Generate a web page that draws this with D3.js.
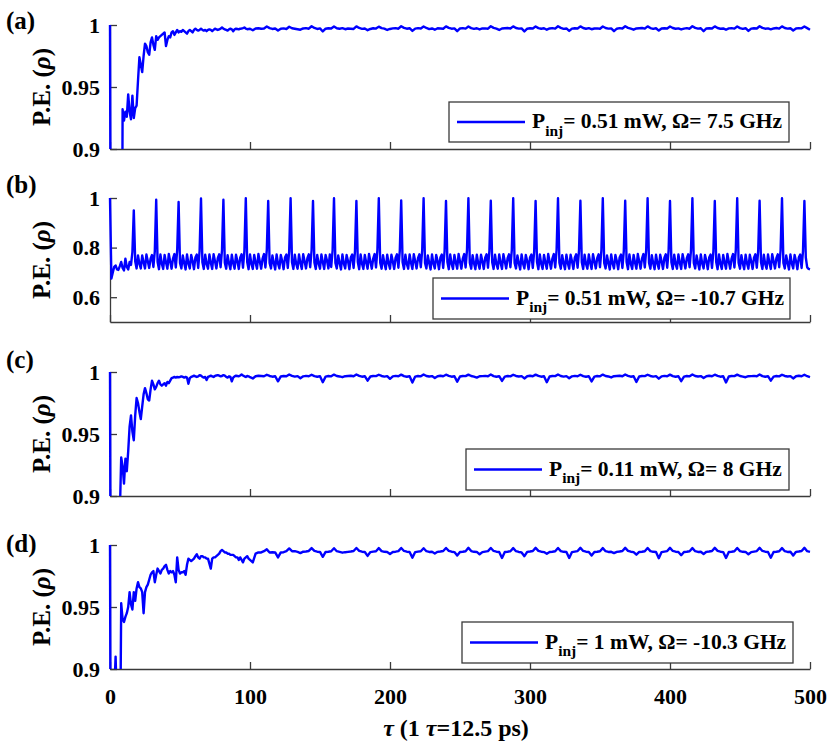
<!DOCTYPE html>
<html>
<head>
<meta charset="utf-8">
<script src="https://cdn.jsdelivr.net/npm/d3@7"></script>
<style>
  body { margin: 0; background: #fff; }
  svg { display: block; }
  text { font-family: "Liberation Serif", "Times New Roman", serif; font-weight: bold; fill: #000; }
</style>
</head>
<body>
<script>
// time grids (tau): panels a, c, d sampled every 1 tau up to 99, then every 2 tau
var tauFine = d3.range(0, 100, 1);
var tauCoarse = d3.range(100, 501, 2);
var tauACD = tauFine.concat(tauCoarse);
var tauB = d3.range(0, 501, 1);

var xTicks = [0, 100, 200, 300, 400, 500];
var legendPower = ["0.51", "0.51", "0.11", "1"];
var legendOmega = ["7.5", "-10.7", "8", "-10.3"];
var panelLetters = ["(a)", "(b)", "(c)", "(d)"];

// (a) P_inj = 0.51 mW, Omega = 7.5 GHz
var peA = [
  1.000, 0.600, 0.600, 0.600, 0.600, 0.600, 0.600, 0.600, 0.600, 0.932,
  0.923, 0.930, 0.926, 0.944, 0.930, 0.924, 0.943, 0.925, 0.933, 0.935,
  0.955, 0.974, 0.968, 0.962, 0.975, 0.985, 0.983, 0.978, 0.976, 0.986,
  0.990, 0.984, 0.980, 0.991, 0.988, 0.990, 0.991, 0.992, 0.993, 0.994,
  0.983, 0.988, 0.991, 0.990, 0.994, 0.995, 0.992, 0.994, 0.996, 0.994,
  0.995, 0.9945, 0.996, 0.995, 0.994, 0.993, 0.995, 0.996, 0.995, 0.994,
  0.996, 0.997, 0.996, 0.9955, 0.996, 0.997, 0.996, 0.9955, 0.996, 0.995,
  0.996, 0.9965, 0.996, 0.995, 0.996, 0.997, 0.9965, 0.996, 0.9965, 0.997,
  0.998, 0.997, 0.9965, 0.996, 0.9955, 0.9965, 0.997, 0.9965, 0.995, 0.9965,
  0.997, 0.9968, 0.9965, 0.997, 0.9972, 0.9975, 0.998, 0.997, 0.9966, 0.9968,
  0.9970, 0.9958, 0.9972, 0.9974, 0.9970, 0.9972,
  0.9988, 0.9975, 0.9968, 0.9972, 0.9955, 0.9970, 0.9973, 0.9968,
  0.9986, 0.9974, 0.9970, 0.9966, 0.9962, 0.9972, 0.9975, 0.9970,
  0.9990, 0.9976, 0.9968, 0.9973, 0.9948, 0.9970, 0.9974, 0.9972,
  0.9988, 0.9974, 0.9970, 0.9975, 0.9966, 0.9972, 0.9970, 0.9968,
  0.9989, 0.9976, 0.9969, 0.9972, 0.9958, 0.9968, 0.9974, 0.9971,
  0.9987, 0.9975, 0.9971, 0.9960, 0.9968, 0.9973, 0.9975, 0.9970,
  0.9990, 0.9977, 0.9970, 0.9974, 0.9952, 0.9971, 0.9975, 0.9972,
  0.9988, 0.9976, 0.9967, 0.9972, 0.9962, 0.9974, 0.9972, 0.9970,
  0.9989, 0.9977, 0.9970, 0.9973, 0.9950, 0.9972, 0.9975, 0.9971,
  0.9988, 0.9975, 0.9969, 0.9974, 0.9964, 0.9972, 0.9973, 0.9970,
  0.9990, 0.9977, 0.9970, 0.9960, 0.9972, 0.9974, 0.9976, 0.9972,
  0.9989, 0.9976, 0.9971, 0.9973, 0.9948, 0.9970, 0.9974, 0.9972,
  0.9988, 0.9975, 0.9970, 0.9974, 0.9962, 0.9972, 0.9975, 0.9971,
  0.9990, 0.9977, 0.9969, 0.9972, 0.9952, 0.9971, 0.9974, 0.9972,
  0.9989, 0.9976, 0.9970, 0.9975, 0.9966, 0.9972, 0.9973, 0.9970,
  0.9988, 0.9976, 0.9971, 0.9973, 0.9950, 0.9970, 0.9975, 0.9972,
  0.9990, 0.9977, 0.9970, 0.9962, 0.9972, 0.9974, 0.9976, 0.9971,
  0.9989, 0.9975, 0.9969, 0.9974, 0.9955, 0.9972, 0.9974, 0.9972,
  0.9988, 0.9976, 0.9970, 0.9973, 0.9964, 0.9971, 0.9975, 0.9970,
  0.9990, 0.9977, 0.9971, 0.9974, 0.9950, 0.9972, 0.9974, 0.9972,
  0.9989, 0.9976, 0.9970, 0.9972, 0.9962, 0.9973, 0.9975, 0.9971,
  0.9988, 0.9975, 0.9969, 0.9974, 0.9952, 0.9971, 0.9974, 0.9972,
  0.9990, 0.9977, 0.9970, 0.9973, 0.9965, 0.9972, 0.9976, 0.9971,
  0.9989, 0.9976, 0.9971, 0.9974, 0.9956, 0.9972, 0.9975, 0.9973,
  0.9988, 0.9975, 0.9962
];

// (b) P_inj = 0.51 mW, Omega = -10.7 GHz
var peB = [
  1.000, 0.675, 0.700, 0.722, 0.728, 0.712, 0.710, 0.725, 0.742, 0.718, 0.708, 0.755, 0.722, 0.712, 0.742, 0.730, 0.782,
  0.950, 0.745, 0.716, 0.768, 0.735, 0.716, 0.768, 0.740, 0.716, 0.772, 0.745, 0.718, 0.755, 0.770, 0.722, 0.785,
  0.993, 0.742, 0.713, 0.772, 0.735, 0.714, 0.770, 0.740, 0.715, 0.774, 0.744, 0.715, 0.756, 0.774, 0.720, 0.790,
  0.984, 0.738, 0.716, 0.768, 0.738, 0.712, 0.772, 0.736, 0.716, 0.770, 0.746, 0.713, 0.760, 0.772, 0.718, 0.786,
  0.998, 0.741, 0.714, 0.771, 0.734, 0.715, 0.772, 0.739, 0.714, 0.773, 0.745, 0.716, 0.757, 0.773, 0.721, 0.789,
  0.993, 0.739, 0.715, 0.769, 0.737, 0.713, 0.771, 0.737, 0.715, 0.771, 0.745, 0.714, 0.759, 0.773, 0.719, 0.787,
  0.999, 0.742, 0.713, 0.772, 0.735, 0.714, 0.770, 0.740, 0.715, 0.774, 0.744, 0.715, 0.756, 0.774, 0.720, 0.790,
  0.988, 0.738, 0.716, 0.768, 0.738, 0.712, 0.772, 0.736, 0.716, 0.770, 0.746, 0.713, 0.760, 0.772, 0.718, 0.786,
  0.999, 0.741, 0.714, 0.771, 0.734, 0.715, 0.772, 0.739, 0.714, 0.773, 0.745, 0.716, 0.757, 0.773, 0.721, 0.789,
  0.988, 0.740, 0.714, 0.770, 0.736, 0.715, 0.772, 0.742, 0.714, 0.770, 0.748, 0.716, 0.772, 0.722, 0.788,
  0.999, 0.738, 0.716, 0.768, 0.738, 0.712, 0.772, 0.736, 0.716, 0.770, 0.746, 0.713, 0.760, 0.772, 0.718, 0.786,
  0.988, 0.742, 0.713, 0.772, 0.735, 0.714, 0.770, 0.740, 0.715, 0.774, 0.744, 0.715, 0.756, 0.774, 0.720, 0.790,
  0.999, 0.739, 0.715, 0.769, 0.737, 0.713, 0.771, 0.737, 0.715, 0.771, 0.745, 0.714, 0.759, 0.773, 0.719, 0.787,
  0.990, 0.741, 0.714, 0.771, 0.734, 0.715, 0.772, 0.739, 0.714, 0.773, 0.745, 0.716, 0.757, 0.773, 0.721, 0.789,
  0.999, 0.738, 0.716, 0.768, 0.738, 0.712, 0.772, 0.736, 0.716, 0.770, 0.746, 0.713, 0.760, 0.772, 0.718, 0.786,
  0.988, 0.742, 0.713, 0.772, 0.735, 0.714, 0.770, 0.740, 0.715, 0.774, 0.744, 0.715, 0.756, 0.774, 0.720, 0.790,
  0.999, 0.739, 0.715, 0.769, 0.737, 0.713, 0.771, 0.737, 0.715, 0.771, 0.745, 0.714, 0.759, 0.773, 0.719, 0.787,
  0.989, 0.741, 0.714, 0.771, 0.734, 0.715, 0.772, 0.739, 0.714, 0.773, 0.745, 0.716, 0.757, 0.773, 0.721, 0.789,
  0.999, 0.738, 0.716, 0.768, 0.738, 0.712, 0.772, 0.736, 0.716, 0.770, 0.746, 0.713, 0.760, 0.772, 0.718, 0.786,
  0.988, 0.742, 0.713, 0.772, 0.735, 0.714, 0.770, 0.740, 0.715, 0.774, 0.744, 0.715, 0.756, 0.774, 0.720, 0.790,
  0.999, 0.739, 0.715, 0.769, 0.737, 0.713, 0.771, 0.737, 0.715, 0.771, 0.745, 0.714, 0.759, 0.773, 0.719, 0.787,
  0.989, 0.741, 0.714, 0.771, 0.734, 0.715, 0.772, 0.739, 0.714, 0.773, 0.745, 0.716, 0.757, 0.773, 0.721, 0.789,
  0.999, 0.738, 0.716, 0.768, 0.738, 0.712, 0.772, 0.736, 0.716, 0.770, 0.746, 0.713, 0.760, 0.772, 0.718, 0.786,
  0.989, 0.742, 0.713, 0.772, 0.735, 0.714, 0.770, 0.740, 0.715, 0.774, 0.744, 0.715, 0.756, 0.774, 0.720, 0.790,
  0.999, 0.739, 0.715, 0.769, 0.737, 0.713, 0.771, 0.737, 0.715, 0.771, 0.745, 0.714, 0.759, 0.773, 0.719, 0.787,
  0.988, 0.741, 0.714, 0.771, 0.734, 0.715, 0.772, 0.739, 0.714, 0.773, 0.745, 0.716, 0.757, 0.773, 0.721, 0.789,
  0.999, 0.738, 0.716, 0.768, 0.738, 0.712, 0.772, 0.736, 0.716, 0.770, 0.746, 0.713, 0.760, 0.772, 0.718, 0.786,
  0.988, 0.742, 0.713, 0.772, 0.735, 0.714, 0.770, 0.740, 0.715, 0.774, 0.744, 0.715, 0.756, 0.774, 0.720, 0.790,
  0.999, 0.739, 0.715, 0.769, 0.737, 0.713, 0.771, 0.737, 0.715, 0.771, 0.745, 0.714, 0.759, 0.773, 0.719, 0.787,
  0.989, 0.741, 0.714, 0.771, 0.734, 0.715, 0.772, 0.739, 0.714, 0.773, 0.745, 0.716, 0.757, 0.773, 0.721, 0.789,
  0.999, 0.738, 0.716, 0.768, 0.738, 0.712, 0.772, 0.736, 0.716, 0.770, 0.746, 0.713, 0.760, 0.772, 0.718, 0.786,
  0.988, 0.760, 0.720, 0.714, 0.712
];

// (c) P_inj = 0.11 mW, Omega = 8 GHz
var peC = [
  1.000, 0.600, 0.600, 0.600, 0.600, 0.600, 0.600, 0.885, 0.931, 0.924,
  0.910, 0.930, 0.920, 0.936, 0.956, 0.965, 0.952, 0.945, 0.965, 0.979,
  0.975, 0.968, 0.962, 0.972, 0.982, 0.987, 0.983, 0.978, 0.977, 0.986,
  0.993, 0.990, 0.986, 0.988, 0.991, 0.993, 0.990, 0.989, 0.990, 0.991,
  0.989, 0.992, 0.991, 0.993, 0.995, 0.9955, 0.996, 0.9955, 0.996, 0.9958,
  0.996, 0.9965, 0.996, 0.9955, 0.996, 0.9955, 0.9905, 0.995, 0.996, 0.9965,
  0.997, 0.9965, 0.996, 0.9965, 0.9975, 0.997, 0.996, 0.9955, 0.996, 0.9935,
  0.996, 0.9965, 0.997, 0.9965, 0.996, 0.9968, 0.9972, 0.9975, 0.997, 0.9965,
  0.9968, 0.9975, 0.997, 0.996, 0.9955, 0.9965, 0.996, 0.9925, 0.9955, 0.9965,
  0.997, 0.9968, 0.9965, 0.9972, 0.998, 0.9972, 0.9965, 0.996, 0.9968, 0.9965,
  0.9958, 0.9948, 0.9966, 0.9970, 0.9968, 0.9966,
  0.9978, 0.9968, 0.9962, 0.9966, 0.9925, 0.9964, 0.9968, 0.9966,
  0.9980, 0.9969, 0.9963, 0.9967, 0.9950, 0.9965, 0.9969, 0.9966,
  0.9978, 0.9967, 0.9962, 0.9966, 0.9918, 0.9963, 0.9968, 0.9965,
  0.9979, 0.9968, 0.9964, 0.9958, 0.9966, 0.9968, 0.9970, 0.9966,
  0.9980, 0.9969, 0.9962, 0.9966, 0.9930, 0.9964, 0.9968, 0.9967,
  0.9978, 0.9968, 0.9963, 0.9967, 0.9945, 0.9965, 0.9969, 0.9966,
  0.9979, 0.9967, 0.9962, 0.9966, 0.9915, 0.9963, 0.9968, 0.9965,
  0.9980, 0.9968, 0.9964, 0.9967, 0.9952, 0.9966, 0.9970, 0.9966,
  0.9978, 0.9969, 0.9962, 0.9966, 0.9922, 0.9964, 0.9968, 0.9967,
  0.9979, 0.9968, 0.9963, 0.9955, 0.9966, 0.9967, 0.9969, 0.9966,
  0.9980, 0.9967, 0.9962, 0.9966, 0.9928, 0.9963, 0.9968, 0.9965,
  0.9978, 0.9968, 0.9964, 0.9967, 0.9948, 0.9966, 0.9970, 0.9966,
  0.9979, 0.9969, 0.9962, 0.9966, 0.9918, 0.9964, 0.9968, 0.9967,
  0.9980, 0.9968, 0.9963, 0.9967, 0.9950, 0.9965, 0.9969, 0.9966,
  0.9978, 0.9967, 0.9962, 0.9966, 0.9924, 0.9963, 0.9968, 0.9965,
  0.9979, 0.9968, 0.9964, 0.9956, 0.9966, 0.9968, 0.9970, 0.9966,
  0.9980, 0.9969, 0.9962, 0.9966, 0.9920, 0.9964, 0.9968, 0.9967,
  0.9978, 0.9968, 0.9963, 0.9967, 0.9946, 0.9965, 0.9969, 0.9966,
  0.9979, 0.9967, 0.9962, 0.9966, 0.9926, 0.9963, 0.9968, 0.9965,
  0.9980, 0.9968, 0.9964, 0.9967, 0.9952, 0.9966, 0.9970, 0.9966,
  0.9978, 0.9969, 0.9962, 0.9966, 0.9916, 0.9964, 0.9968, 0.9967,
  0.9979, 0.9968, 0.9963, 0.9958, 0.9966, 0.9967, 0.9969, 0.9966,
  0.9980, 0.9967, 0.9962, 0.9966, 0.9930, 0.9963, 0.9968, 0.9965,
  0.9978, 0.9968, 0.9964, 0.9967, 0.9948, 0.9966, 0.9970, 0.9966,
  0.9978, 0.9966, 0.9958
];

// (d) P_inj = 1 mW, Omega = -10.3 GHz
var peD = [
  1.000, 0.600, 0.700, 0.880, 0.910, 0.870, 0.750, 0.800, 0.953, 0.940,
  0.938, 0.942, 0.945, 0.950, 0.962, 0.952, 0.948, 0.962, 0.955, 0.965,
  0.970, 0.966, 0.965, 0.962, 0.945, 0.962, 0.966, 0.968, 0.972, 0.976,
  0.978, 0.979, 0.970, 0.976, 0.981, 0.979, 0.977, 0.980, 0.981, 0.983,
  0.984, 0.980, 0.977, 0.979, 0.978, 0.979, 0.976, 0.970, 0.990, 0.980,
  0.977, 0.978, 0.978, 0.979, 0.976, 0.984, 0.989, 0.988, 0.987, 0.988,
  0.989, 0.991, 0.9925, 0.990, 0.989, 0.991, 0.991, 0.990, 0.990, 0.989,
  0.989, 0.985, 0.981, 0.989, 0.990, 0.990, 0.991, 0.992, 0.993, 0.995,
  0.996, 0.995, 0.994, 0.994, 0.993, 0.993, 0.992, 0.992, 0.992, 0.991,
  0.990, 0.990, 0.988, 0.990, 0.988, 0.986, 0.989, 0.990, 0.991, 0.989,
  0.9880, 0.9860, 0.9930, 0.9940, 0.9940, 0.9950,
  0.9965, 0.9940, 0.9942, 0.9940, 0.9900, 0.9940, 0.9942, 0.9950,
  0.9972, 0.9950, 0.9950, 0.9944, 0.9935, 0.9946, 0.9948, 0.9952,
  0.9975, 0.9952, 0.9946, 0.9944, 0.9905, 0.9944, 0.9946, 0.9950,
  0.9974, 0.9950, 0.9944, 0.9938, 0.9942, 0.9945, 0.9948, 0.9952,
  0.9976, 0.9953, 0.9946, 0.9944, 0.9912, 0.9943, 0.9947, 0.9950,
  0.9975, 0.9951, 0.9945, 0.9943, 0.9928, 0.9944, 0.9946, 0.9951,
  0.9976, 0.9952, 0.9946, 0.9944, 0.9898, 0.9943, 0.9947, 0.9950,
  0.9974, 0.9950, 0.9944, 0.9945, 0.9932, 0.9945, 0.9948, 0.9952,
  0.9976, 0.9953, 0.9946, 0.9943, 0.9915, 0.9944, 0.9946, 0.9950,
  0.9977, 0.9951, 0.9945, 0.9944, 0.9925, 0.9943, 0.9947, 0.9951,
  0.9976, 0.9952, 0.9946, 0.9944, 0.9895, 0.9944, 0.9946, 0.9950,
  0.9975, 0.9950, 0.9944, 0.9940, 0.9910, 0.9945, 0.9948, 0.9952,
  0.9977, 0.9953, 0.9946, 0.9943, 0.9930, 0.9944, 0.9946, 0.9950,
  0.9976, 0.9951, 0.9945, 0.9944, 0.9895, 0.9943, 0.9947, 0.9951,
  0.9977, 0.9952, 0.9946, 0.9944, 0.9915, 0.9944, 0.9946, 0.9950,
  0.9975, 0.9950, 0.9944, 0.9945, 0.9935, 0.9945, 0.9948, 0.9952,
  0.9977, 0.9953, 0.9946, 0.9943, 0.9922, 0.9944, 0.9946, 0.9950,
  0.9976, 0.9951, 0.9945, 0.9944, 0.9893, 0.9943, 0.9947, 0.9951,
  0.9977, 0.9952, 0.9946, 0.9944, 0.9918, 0.9944, 0.9946, 0.9950,
  0.9975, 0.9950, 0.9944, 0.9945, 0.9928, 0.9945, 0.9948, 0.9952,
  0.9977, 0.9953, 0.9946, 0.9943, 0.9895, 0.9944, 0.9946, 0.9950,
  0.9976, 0.9951, 0.9945, 0.9944, 0.9925, 0.9943, 0.9947, 0.9951,
  0.9977, 0.9952, 0.9946, 0.9944, 0.9897, 0.9944, 0.9946, 0.9950,
  0.9975, 0.9950, 0.9944, 0.9945, 0.9915, 0.9945, 0.9948, 0.9952,
  0.9977, 0.9950, 0.9945
];

var width = 831, height = 743;
var plotH = 124;
var axisColor = "#3a3a3a";

var svg = d3.select("body").append("svg")
  .attr("width", width)
  .attr("height", height);

var x = d3.scaleLinear().domain([0, 500]).range([110, 810]);

var panels = [
  { tau: tauACD, pe: peA, top: 25,  dom: [0.9, 1], ticks: [0.9, 0.95, 1], letterY: 29,  leg: { x: 449, y: 102, w: 340, h: 40 } },
  { tau: tauB,   pe: peB, top: 198, dom: [0.5, 1], ticks: [0.6, 0.8, 1],  letterY: 193, leg: { x: 433, y: 278, w: 357, h: 41 } },
  { tau: tauACD, pe: peC, top: 372, dom: [0.9, 1], ticks: [0.9, 0.95, 1], letterY: 368, leg: { x: 466, y: 449, w: 323, h: 41 } },
  { tau: tauACD, pe: peD, top: 545, dom: [0.9, 1], ticks: [0.9, 0.95, 1], letterY: 552, leg: { x: 462, y: 622, w: 331, h: 41 } }
];

panels.forEach(function(p, i) {
  var y = d3.scaleLinear().domain(p.dom).range([p.top + plotH, p.top]);
  var g = svg.append("g");

  g.append("clipPath").attr("id", "clip" + i)
    .append("rect")
    .attr("x", 108).attr("y", p.top - 2)
    .attr("width", 705).attr("height", plotH + 2);

  // axes
  var xAxis = d3.axisBottom(x).tickValues(xTicks).tickSize(-7).tickSizeOuter(0).tickPadding(19);
  if (i < 3) xAxis.tickFormat("");
  var gx = g.append("g")
    .attr("transform", "translate(0," + (p.top + plotH) + ")")
    .call(xAxis);

  var yAxis = d3.axisLeft(y).tickValues(p.ticks).tickSize(-7).tickSizeOuter(0).tickPadding(10)
    .tickFormat(function(d) { return String(d); });
  var gy = g.append("g")
    .attr("transform", "translate(110,0)")
    .call(yAxis);

  [gx, gy].forEach(function(a) {
    a.select(".domain").attr("stroke", axisColor).attr("stroke-width", 1.3);
    a.selectAll(".tick line").attr("stroke", axisColor).attr("stroke-width", 1.3);
    a.selectAll(".tick text")
      .attr("font-family", "Liberation Serif, Times New Roman, serif")
      .attr("font-weight", "bold")
      .attr("font-size", 22)
      .attr("fill", "#000");
  });

  // series
  var line = d3.line()
    .x(function(d) { return x(d[0]); })
    .y(function(d) { return y(d[1]); });

  g.append("path")
    .datum(d3.zip(p.tau, p.pe))
    .attr("clip-path", "url(#clip" + i + ")")
    .attr("fill", "none")
    .attr("stroke", "#0000ff")
    .attr("stroke-width", 2.4)
    .attr("stroke-linejoin", "round")
    .attr("d", line);

  // y label
  var yl = g.append("text")
    .attr("transform", "translate(41," + (p.top + plotH / 2) + ") rotate(-90)")
    .attr("text-anchor", "middle")
    .attr("dy", "0.35em")
    .attr("font-size", 25);
  yl.append("tspan").text("P.E. (");
  yl.append("tspan").attr("font-style", "italic").text("\u03c1");
  yl.append("tspan").text(")");

  // panel letter
  g.append("text")
    .attr("x", 6).attr("y", p.letterY)
    .attr("font-size", 25)
    .text(panelLetters[i]);

  // legend
  var L = p.leg;
  g.append("rect")
    .attr("x", L.x).attr("y", L.y).attr("width", L.w).attr("height", L.h)
    .attr("fill", "#fff").attr("stroke", axisColor).attr("stroke-width", 1.3);
  g.append("line")
    .attr("x1", L.x + 8).attr("x2", L.x + 76)
    .attr("y1", L.y + L.h / 2).attr("y2", L.y + L.h / 2)
    .attr("stroke", "#0000ff").attr("stroke-width", 2.4);
  var lt = g.append("text")
    .attr("x", L.x + 83).attr("y", L.y + L.h / 2 + 6)
    .attr("font-size", 21.5);
  lt.append("tspan").text("P");
  lt.append("tspan").attr("font-size", 15.5).attr("dy", 7.5).text("inj");
  lt.append("tspan").attr("dy", -7.5)
    .text("= " + legendPower[i] + " mW, \u03a9= " + legendOmega[i] + " GHz");
});

// x label
var xl = svg.append("text")
  .attr("x", 456).attr("y", 736)
  .attr("text-anchor", "middle")
  .attr("font-size", 24);
xl.append("tspan").attr("font-style", "italic").text("\u03c4");
xl.append("tspan").text(" (1 ");
xl.append("tspan").attr("font-style", "italic").text("\u03c4");
xl.append("tspan").text("=12.5 ps)");
</script>
</body>
</html>
